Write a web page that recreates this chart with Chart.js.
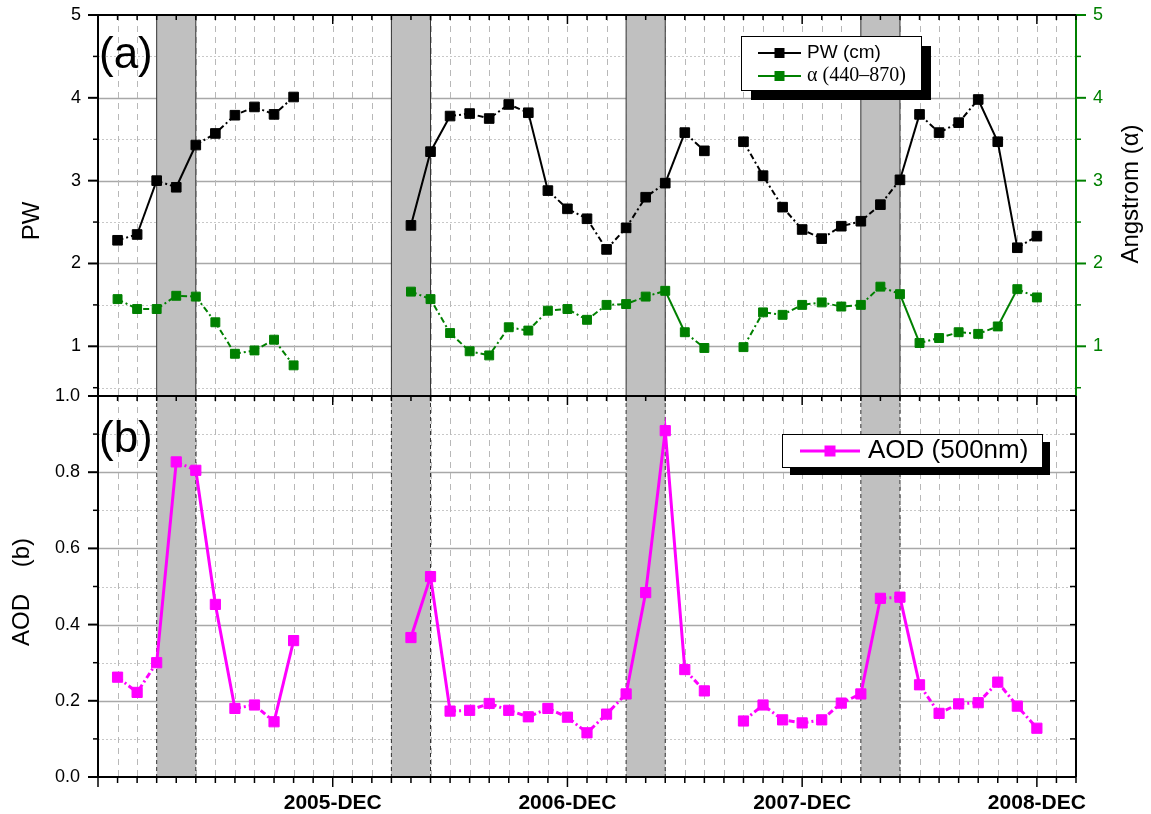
<!DOCTYPE html>
<html>
<head>
<meta charset="utf-8">
<script src="https://cdn.jsdelivr.net/npm/chart.js@4.4.1/dist/chart.umd.min.js"></script>
<style>
  body { margin: 0; background: #fff; }
  #wrap { position: relative; width: 1151px; height: 814px; }
  #wrap canvas { position: absolute; left: 0; top: 0; }
</style>
</head>
<body>
<div id="wrap">
  <canvas id="chartA" width="1151" height="814"></canvas>
  <canvas id="chartB" width="1151" height="814"></canvas>
</div>
<script>
const months = [
  '2004-DEC',
  '2005-JAN', '2005-FEB', '2005-MAR', '2005-APR', '2005-MAY', '2005-JUN', '2005-JUL', '2005-AUG', '2005-SEP', '2005-OCT', '2005-NOV', '2005-DEC',
  '2006-JAN', '2006-FEB', '2006-MAR', '2006-APR', '2006-MAY', '2006-JUN', '2006-JUL', '2006-AUG', '2006-SEP', '2006-OCT', '2006-NOV', '2006-DEC',
  '2007-JAN', '2007-FEB', '2007-MAR', '2007-APR', '2007-MAY', '2007-JUN', '2007-JUL', '2007-AUG', '2007-SEP', '2007-OCT', '2007-NOV', '2007-DEC',
  '2008-JAN', '2008-FEB', '2008-MAR', '2008-APR', '2008-MAY', '2008-JUN', '2008-JUL', '2008-AUG', '2008-SEP', '2008-OCT', '2008-NOV', '2008-DEC',
  '2009-JAN', '2009-FEB'
];
const tickLabels = ['2005-DEC', '2006-DEC', '2007-DEC', '2008-DEC'];

// precipitable water (cm), left axis of panel (a)
const pwValues = [
  null, 2.28, 2.35, 3.00, 2.92, 3.43, 3.57, 3.79, 3.89, 3.80, 4.01, null,
  null, null, null, null, 2.46, 3.35, 3.78, 3.81, 3.75, 3.92, 3.82, 2.88, 2.66,
  2.54, 2.17, 2.43, 2.80, 2.97, 3.58, 3.36, null, 3.47, 3.06, 2.68, 2.41,
  2.30, 2.45, 2.51, 2.71, 3.01, 3.80, 3.58, 3.70, 3.98, 3.47, 2.19, 2.33,
  null, null
];
// angstrom exponent 440-870, right axis of panel (a)
const alphaValues = [
  null, 1.57, 1.45, 1.45, 1.61, 1.60, 1.29, 0.91, 0.95, 1.08, 0.77, null,
  null, null, null, null, 1.66, 1.57, 1.16, 0.94, 0.89, 1.23, 1.19, 1.43, 1.45,
  1.32, 1.50, 1.51, 1.60, 1.67, 1.17, 0.98, null, 0.99, 1.41, 1.38, 1.50,
  1.53, 1.48, 1.50, 1.72, 1.63, 1.04, 1.10, 1.17, 1.15, 1.24, 1.69, 1.59,
  null, null
];
// AOD at 500nm, panel (b)
const aodValues = [
  null, 0.262, 0.222, 0.300, 0.827, 0.805, 0.453, 0.180, 0.189, 0.145, 0.358, null,
  null, null, null, null, 0.366, 0.526, 0.173, 0.175, 0.193, 0.175, 0.158, 0.180, 0.157,
  0.116, 0.165, 0.218, 0.484, 0.909, 0.282, 0.226, null, 0.147, 0.189, 0.150, 0.142,
  0.150, 0.194, 0.218, 0.469, 0.472, 0.242, 0.167, 0.192, 0.195, 0.249, 0.186, 0.128,
  null, null
];

// shaded spring periods
const bandStart = ['2005-MAR', '2006-MAR', '2007-MAR', '2008-MAR'];
const bandEnd = ['2005-MAY', '2006-MAY', '2007-MAY', '2008-MAY'];

const pwTicks = [1, 2, 3, 4, 5];
const pwMinor = [0.5, 1.5, 2.5, 3.5, 4.5];
const aodTicks = [0, 0.2, 0.4, 0.6, 0.8, 1.0];
const aodMinor = [0.1, 0.3, 0.5, 0.7, 0.9];

const SANS = "'Liberation Sans', Arial, sans-serif";
const SERIF = "'Liberation Serif', 'Times New Roman', serif";
const GREEN = '#008000';
const MAGENTA = '#ff00ff';

function line(ctx, x1, y1, x2, y2, color, width, dash) {
  ctx.save();
  ctx.beginPath();
  ctx.strokeStyle = color;
  ctx.lineWidth = width;
  ctx.setLineDash(dash || []);
  ctx.moveTo(x1, y1);
  ctx.lineTo(x2, y2);
  ctx.stroke();
  ctx.restore();
}

// short segments dash-dot, long ones look solid
const segDash = c => Math.hypot(c.p1.x - c.p0.x, c.p1.y - c.p0.y) > 40 ? [] : [6, 3, 2, 3];

// keep the plot boxes where they are, no extra room for edge labels
const fixW = w => s => { s.width = w; s.paddingTop = 0; s.paddingBottom = 0; };

function drawBack(chart, majors, minors, scaleId, edgeDash) {
  const {ctx, chartArea: a} = chart;
  const x = chart.scales.x, y = chart.scales[scaleId];
  minors.forEach(v => {
    const py = Math.round(y.getPixelForValue(v)) + 0.5;
    line(ctx, a.left, py, a.right, py, '#c8c8c8', 1, [2, 2]);
  });
  majors.forEach(v => {
    const py = Math.round(y.getPixelForValue(v)) + 0.5;
    if (py > a.top + 2 && py < a.bottom - 2) line(ctx, a.left, py, a.right, py, '#a8a8a8', 1.4);
  });
  months.forEach((m, i) => {
    if (i === 0 || i === months.length - 1) return;
    const px = Math.round(x.getPixelForValue(i)) + 0.5;
    line(ctx, px, a.top, px, a.bottom, '#b8b8b8', 1, [6, 5]);
  });
  bandStart.forEach((s, k) => {
    const x1 = x.getPixelForValue(s), x2 = x.getPixelForValue(bandEnd[k]);
    ctx.fillStyle = '#c0c0c0';
    ctx.fillRect(x1, a.top, x2 - x1, a.bottom - a.top);
    line(ctx, x1, a.top, x1, a.bottom, '#333', 1, edgeDash);
    line(ctx, x2, a.top, x2, a.bottom, '#333', 1, edgeDash);
  });
}

function monthTicks(chart, y0, dir, minorLen, majorLen) {
  const {ctx} = chart;
  const x = chart.scales.x;
  months.forEach((m, i) => {
    const px = x.getPixelForValue(i);
    const len = m.endsWith('DEC') ? majorLen : minorLen;
    line(ctx, px, y0, px, y0 + dir * len, '#000', 1.5);
  });
}

function legendBox(ctx, x, y, w, h, shadow) {
  ctx.fillStyle = '#000';
  ctx.fillRect(x + shadow, y + shadow, w, h);
  ctx.fillStyle = '#fff';
  ctx.fillRect(x, y, w, h);
  ctx.strokeStyle = '#000';
  ctx.lineWidth = 1;
  ctx.strokeRect(x + 0.5, y + 0.5, w, h);
}

function legendEntry(ctx, ds, x1, x2, y, side, textX, font) {
  line(ctx, x1, y, x2, y, ds.borderColor, ds.borderWidth);
  ctx.fillStyle = ds.backgroundColor;
  ctx.fillRect((x1 + x2) / 2 - side / 2, y - side / 2, side, side);
  ctx.fillStyle = '#000';
  ctx.font = font;
  ctx.textAlign = 'left';
  ctx.textBaseline = 'middle';
  ctx.fillText(ds.label, textX, y);
}

function vText(ctx, text, x, y, font, color) {
  ctx.save();
  ctx.translate(x, y);
  ctx.rotate(-Math.PI / 2);
  ctx.font = font;
  ctx.fillStyle = color;
  ctx.textAlign = 'center';
  ctx.textBaseline = 'middle';
  ctx.fillText(text, 0, 0);
  ctx.restore();
}

const panelA = {
  id: 'panelA',
  beforeDatasetsDraw(chart) {
    drawBack(chart, pwTicks, pwMinor, 'y', []);
  },
  afterDraw(chart) {
    const {ctx, chartArea: a} = chart;
    const y = chart.scales.y, y1 = chart.scales.y1;
    line(ctx, a.left, a.top, a.right, a.top, '#000', 2);
    line(ctx, a.left, a.top, a.left, a.bottom, '#000', 2);
    line(ctx, a.left, a.bottom, a.right, a.bottom, '#000', 2);
    line(ctx, a.right, a.top, a.right, a.bottom, GREEN, 2);
    pwTicks.forEach(v => line(ctx, a.left - 10, y.getPixelForValue(v), a.left, y.getPixelForValue(v), '#000', 2));
    pwMinor.forEach(v => line(ctx, a.left - 5, y.getPixelForValue(v), a.left, y.getPixelForValue(v), '#000', 1.5));
    pwTicks.forEach(v => line(ctx, a.right, y1.getPixelForValue(v), a.right + 10, y1.getPixelForValue(v), GREEN, 2));
    pwMinor.forEach(v => line(ctx, a.right, y1.getPixelForValue(v), a.right + 5, y1.getPixelForValue(v), GREEN, 1.5));
    monthTicks(chart, a.top, 1, 5, 9);

    ctx.fillStyle = '#000';
    ctx.font = '44px ' + SANS;
    ctx.textAlign = 'left';
    ctx.textBaseline = 'middle';
    ctx.fillText('(a)', 99, 56);

    vText(ctx, 'PW', 32, 221, '24px ' + SANS, '#000');
    vText(ctx, 'Angstrom (α)', 1131, 194, '24px ' + SANS, '#000');

    const ds = chart.data.datasets;
    legendBox(ctx, 741, 36, 180, 54, 10);
    legendEntry(ctx, ds[0], 758, 801, 53, 10, 807, '19px ' + SANS);
    legendEntry(ctx, ds[1], 758, 801, 76, 10, 807, '20px ' + SERIF);
  }
};

const panelB = {
  id: 'panelB',
  beforeDatasetsDraw(chart) {
    drawBack(chart, aodTicks, aodMinor, 'y', [4, 3]);
  },
  afterDraw(chart) {
    const {ctx, chartArea: a} = chart;
    const y = chart.scales.y;
    line(ctx, a.left, a.top, a.right, a.top, '#000', 2);
    line(ctx, a.left, a.top, a.left, a.bottom, '#000', 2);
    line(ctx, a.left, a.bottom, a.right, a.bottom, '#000', 2);
    line(ctx, a.right, a.top, a.right, a.bottom, '#000', 2);
    aodTicks.forEach(v => line(ctx, a.left - 10, y.getPixelForValue(v), a.left, y.getPixelForValue(v), '#000', 2));
    aodMinor.forEach(v => line(ctx, a.left - 5, y.getPixelForValue(v), a.left, y.getPixelForValue(v), '#000', 1.5));
    aodTicks.concat(aodMinor).forEach(v => line(ctx, a.right - 6, y.getPixelForValue(v), a.right, y.getPixelForValue(v), '#000', 1.5));
    monthTicks(chart, a.bottom, 1, 6, 10);
    monthTicks(chart, a.top, 1, 5, 9);

    ctx.fillStyle = '#000';
    ctx.font = '44px ' + SANS;
    ctx.textAlign = 'left';
    ctx.textBaseline = 'middle';
    ctx.fillText('(b)', 99, 440);

    vText(ctx, 'AOD    (b)', 22, 592, '24px ' + SANS, '#000');

    legendBox(ctx, 782, 434, 260, 33, 8);
    legendEntry(ctx, chart.data.datasets[0], 800, 860, 451, 11, 868, '26px ' + SANS);
  }
};

const tickFont = {family: SANS, size: 18};

new Chart(document.getElementById('chartA'), {
  type: 'line',
  data: {
    labels: months,
    datasets: [
      {
        label: 'PW (cm)',
        data: pwValues,
        yAxisID: 'y',
        borderColor: '#000',
        backgroundColor: '#000',
        borderWidth: 2,
        pointStyle: 'rect',
        pointRadius: 6.8,
        pointBorderWidth: 1,
        pointBackgroundColor: '#000',
        pointBorderColor: '#000',
        segment: {borderDash: segDash}
      },
      {
        label: 'α (440–870)',
        data: alphaValues,
        yAxisID: 'y1',
        borderColor: GREEN,
        backgroundColor: GREEN,
        borderWidth: 2,
        pointStyle: 'rect',
        pointRadius: 6.3,
        pointBorderWidth: 1,
        pointBackgroundColor: GREEN,
        pointBorderColor: GREEN,
        segment: {borderDash: segDash}
      }
    ]
  },
  options: {
    responsive: false,
    animation: false,
    events: [],
    layout: {padding: {top: 15, bottom: 814 - 396, left: 0, right: 0}},
    plugins: {legend: {display: false}, tooltip: {enabled: false}},
    scales: {
      x: {type: 'category', display: false},
      y: {
        position: 'left',
        min: 0.4,
        max: 5,
        grid: {display: false, drawTicks: false},
        border: {display: false},
        ticks: {
          stepSize: 1,
          padding: 17,
          color: '#000',
          font: tickFont,
          callback: v => Number.isInteger(v) ? String(v) : ''
        },
        afterFit: fixW(98)
      },
      y1: {
        position: 'right',
        min: 0.4,
        max: 5,
        grid: {display: false, drawTicks: false},
        border: {display: false},
        ticks: {
          stepSize: 1,
          padding: 17,
          color: GREEN,
          font: tickFont,
          callback: v => Number.isInteger(v) ? String(v) : ''
        },
        afterFit: fixW(1151 - 1076)
      }
    }
  },
  plugins: [panelA]
});

new Chart(document.getElementById('chartB'), {
  type: 'line',
  data: {
    labels: months,
    datasets: [
      {
        label: 'AOD (500nm)',
        data: aodValues,
        borderColor: MAGENTA,
        backgroundColor: MAGENTA,
        borderWidth: 3,
        pointStyle: 'rect',
        pointRadius: 7.2,
        pointBorderWidth: 1,
        pointBackgroundColor: MAGENTA,
        pointBorderColor: MAGENTA,
        segment: {borderDash: segDash}
      }
    ]
  },
  options: {
    responsive: false,
    animation: false,
    events: [],
    layout: {padding: {top: 396, bottom: 0, left: 0, right: 1151 - 1076}},
    plugins: {legend: {display: false}, tooltip: {enabled: false}},
    scales: {
      x: {
        type: 'category',
        grid: {display: false, drawTicks: false},
        border: {display: false},
        ticks: {
          autoSkip: false,
          maxRotation: 0,
          padding: 14,
          color: '#000',
          font: {family: SANS, size: 21, weight: 'bold'},
          callback: (v, i) => tickLabels.includes(months[i]) ? months[i] : ''
        },
        afterFit: s => { s.height = 814 - 777; s.paddingLeft = 0; s.paddingRight = 0; }
      },
      y: {
        position: 'left',
        min: 0,
        max: 1,
        grid: {display: false, drawTicks: false},
        border: {display: false},
        ticks: {
          stepSize: 0.2,
          padding: 18,
          color: '#000',
          font: tickFont,
          callback: v => v.toFixed(1)
        },
        afterFit: fixW(98)
      }
    }
  },
  plugins: [panelB]
});
</script>
</body>
</html>
